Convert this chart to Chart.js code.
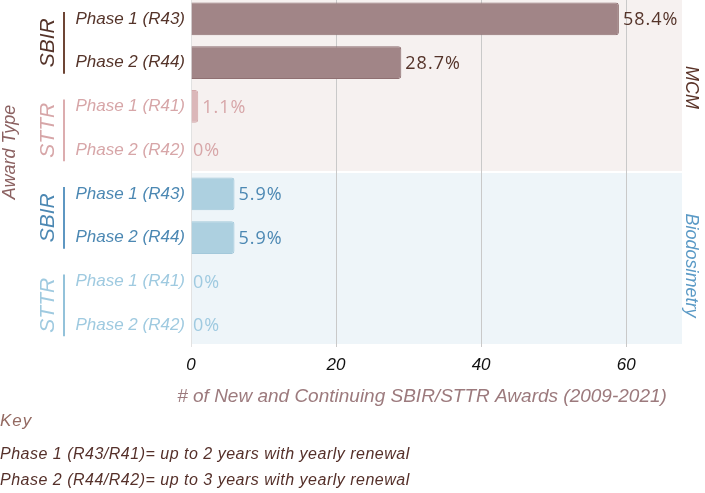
<!DOCTYPE html>
<html><head><meta charset="utf-8">
<script src="https://cdn.jsdelivr.net/npm/chart.js@4"></script>
<style>
html,body{margin:0;padding:0;background:#fff;}
#wrap{position:relative;width:705px;height:493px;overflow:hidden;}
#c{position:absolute;left:0;top:-3px;}
.key{position:absolute;left:0;font-style:italic;white-space:nowrap;line-height:20px;font-family:'Liberation Sans',Arial,sans-serif;}
</style></head><body>
<div id="wrap"><canvas id="c" width="705" height="496"></canvas>
<div class="key" id="keyTitle" style="top:411px;font-size:17px;letter-spacing:1px;color:#946a62;"></div>
<div class="key" id="key1" style="top:444px;font-size:16px;letter-spacing:0.5px;color:#55302a;"></div>
<div class="key" id="key2" style="top:470px;font-size:16px;letter-spacing:0.5px;color:#55302a;"></div>
</div>
<script>
// ---- data ----
const phaseLabels = ['Phase 1 (R43)','Phase 2 (R44)','Phase 1 (R41)','Phase 2 (R42)','Phase 1 (R43)','Phase 2 (R44)','Phase 1 (R41)','Phase 2 (R42)'];
const awardTypes = ['SBIR','STTR','SBIR','STTR'];          // each spans two rows
const panels = ['MCM','Biodosimetry'];                    // each spans four rows
const awardCounts = [59, 29, 1, 0, 6, 6, 0, 0];
const percentLabels = ['58.4%','28.7%','1.1%','0%','5.9%','5.9%','0%','0%'];
const xTickValues = [0, 20, 40, 60];
const xAxisTitle = '# of New and Continuing SBIR/STTR Awards (2009-2021)';
const yAxisTitle = 'Award Type';
const keyTitle = 'Key';
const keyLines = ['Phase 1 (R43/R41)= up to 2 years with yearly renewal','Phase 2 (R44/R42)= up to 3 years with yearly renewal'];

document.getElementById('keyTitle').textContent = keyTitle;
document.getElementById('key1').textContent = keyLines[0];
document.getElementById('key2').textContent = keyLines[1];

// ---- styles ----
const OY = 3; // canvas is shifted up by 3px
const groupText = ['#55342a','#d7a6a8','#4c88b3','#9fcae0'];
const groupLine = ['#6e4535','#dcadaf','#5e97c2','#93c2da'];
const barFill   = ['#a18587','#dbb7b9','#add0e0','#b9dbe9'];
const barBorder = ['#8f7072','#d3a8aa','#a3c8da','#a9d1e2'];
const panelBg   = ['#f6f1f0','#eef5f9'];
const panelText = ['#5a3328','#5b9ac6'];
const rowGroup = i => Math.floor(i/2);

const sideLabels = {
  id:'sideLabels',
  beforeDraw(chart){
    const {ctx, chartArea:a, scales:{y}} = chart;
    const b = (y.getPixelForValue(3)+y.getPixelForValue(4))/2;
    const top = OY;
    ctx.save();
    ctx.fillStyle = panelBg[0];
    ctx.fillRect(a.left, top, a.right-a.left, b-1-top);
    ctx.fillStyle = panelBg[1];
    ctx.fillRect(a.left, b+1, a.right-a.left, (344+OY)-(b+1));
    ctx.restore();
  },
  afterDatasetsDraw(chart){
    const {ctx, chartArea:a, scales:{x,y}} = chart;
    ctx.save();
    // value labels
    ctx.font = '18px "Open Sans", sans-serif';
    ctx.letterSpacing = '1px';
    ctx.textAlign = 'left'; ctx.textBaseline = 'middle';
    awardCounts.forEach((v,i)=>{
      ctx.fillStyle = groupText[rowGroup(i)];
      ctx.fillText(percentLabels[i], x.getPixelForValue(v)+ (v>0?4:2), y.getPixelForValue(i)+1);
    });
    ctx.letterSpacing = '0px';
    // group labels + lines
    awardTypes.forEach((t,g)=>{
      const y1 = y.getPixelForValue(2*g), y2 = y.getPixelForValue(2*g+1);
      ctx.strokeStyle = groupLine[g]; ctx.lineWidth = 2;
      ctx.beginPath(); ctx.moveTo(64, y1-7); ctx.lineTo(64, y2+11); ctx.stroke();
      ctx.save();
      ctx.translate(48, (y1+y2)/2 + 2);
      ctx.rotate(-Math.PI/2);
      ctx.fillStyle = groupText[g];
      ctx.font = 'italic 21px "Liberation Sans", sans-serif';
      ctx.textAlign = 'center'; ctx.textBaseline = 'middle';
      ctx.fillText(t, 0, 0);
      ctx.restore();
    });
    // panel labels
    panels.forEach((p,k)=>{
      const yc = (y.getPixelForValue(4*k)+y.getPixelForValue(4*k+3))/2 + (k===0?3:6);
      ctx.save();
      ctx.translate(691, yc);
      ctx.rotate(Math.PI/2);
      ctx.fillStyle = panelText[k];
      ctx.font = 'italic 18px "Liberation Sans", sans-serif';
      ctx.textAlign = 'center'; ctx.textBaseline = 'middle';
      ctx.fillText(p, 0, 0);
      ctx.restore();
    });
    // y title
    ctx.save();
    ctx.translate(10, 152+OY);
    ctx.rotate(-Math.PI/2);
    ctx.fillStyle = '#8c6262';
    ctx.font = 'italic 18px "Liberation Sans", sans-serif';
    ctx.textAlign = 'center'; ctx.textBaseline = 'middle';
    ctx.fillText(yAxisTitle, 0, 0);
    ctx.restore();
    // x title
    ctx.fillStyle = '#9c7a7d';
    ctx.font = 'italic 19px "Liberation Sans", sans-serif';
    ctx.textAlign = 'center'; ctx.textBaseline = 'middle';
    ctx.fillText(xAxisTitle, 422, 397+OY);
    ctx.restore();
  }
};

new Chart(document.getElementById('c'), {
  type:'bar',
  data:{
    labels: phaseLabels,
    datasets:[{
      data: awardCounts,
      backgroundColor: awardCounts.map((v,i)=>barFill[rowGroup(i)]),
      borderColor: awardCounts.map((v,i)=>barBorder[rowGroup(i)]),
      borderWidth: 1,
      borderRadius: 3,
      barPercentage: 0.75,
      categoryPercentage: 1
    }]
  },
  options:{
    indexAxis:'y',
    responsive:false,
    devicePixelRatio:1,
    animation:false,
    layout:{padding:{left:0,right:23,top:0,bottom:86}},
    plugins:{legend:{display:false},tooltip:{enabled:false}},
    scales:{
      x:{
        min:0, max:67.7,
        afterBuildTicks: s => { s.ticks = xTickValues.map(v=>({value:v})); },
        ticks:{color:'#111', font:{family:'"Liberation Sans", sans-serif', style:'italic', size:17}, padding:8},
        grid:{drawTicks:false, color: c => c.tick && c.tick.value===0 ? '#e2e2e2' : '#c9c9c9'},
        border:{display:false},
        afterFit: s => { s.height = 60; }
      },
      y:{
        ticks:{color: phaseLabels.map((l,i)=>groupText[rowGroup(i)]), font:{family:'"Liberation Sans", sans-serif', style:'italic', size:17}, padding:6},
        grid:{display:false, drawTicks:false},
        border:{display:false},
        afterFit: s => { s.width = 191; s.paddingTop = 0; s.paddingBottom = 0; }
      }
    }
  },
  plugins:[sideLabels]
});
</script>
</body></html>
